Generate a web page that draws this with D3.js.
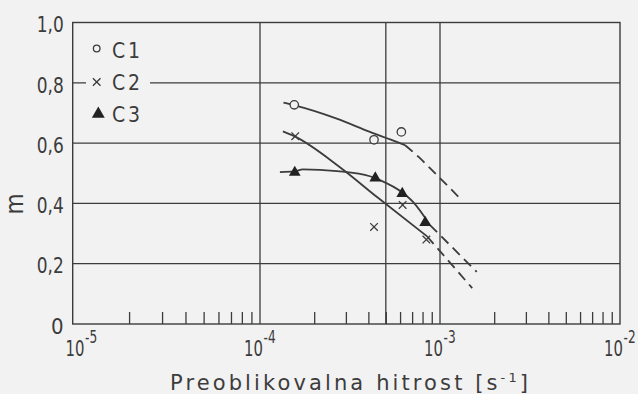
<!DOCTYPE html>
<html>
<head>
<meta charset="utf-8">
<script src="https://cdn.jsdelivr.net/npm/d3@7"></script>
<style>
  html, body { margin: 0; padding: 0; background: #f2f2f2; }
  svg { display: block; }
</style>
</head>
<body>
<svg id="chart" width="638" height="394"></svg>
<script>
// marker data
const c1X = [1.55e-4, 4.3e-4, 6.1e-4];
const c1Y = [0.727, 0.611, 0.637];
const c2X = [1.57e-4, 4.3e-4, 6.2e-4, 8.4e-4];
const c2Y = [0.623, 0.322, 0.395, 0.28];
const c3X = [1.56e-4, 4.37e-4, 6.17e-4, 8.27e-4];
const c3Y = [0.506, 0.487, 0.436, 0.34];

// fitted curves: solid part and dashed extrapolation
const c1SolidX = [1.35e-4, 1.56e-4, 2.67e-4, 4.08e-4, 5.75e-4, 6.4e-4];
const c1SolidY = [0.734, 0.725, 0.681, 0.637, 0.604, 0.593];
const c1DashX = [6.4e-4, 7.74e-4, 8.8e-4, 1.29e-3];
const c1DashY = [0.593, 0.55, 0.517, 0.417];

const c2SolidX = [1.34e-4, 1.55e-4, 2.78e-4, 4.47e-4, 8.47e-4];
const c2SolidY = [0.639, 0.623, 0.52, 0.421, 0.291];
const c2DashX = [8.47e-4, 1.51e-3];
const c2DashY = [0.291, 0.119];

const c3SolidX = [1.29e-4, 1.56e-4, 1.73e-4, 2.68e-4, 4.08e-4, 4.64e-4, 6.17e-4, 7.08e-4, 8.8e-4];
const c3SolidY = [0.504, 0.506, 0.513, 0.507, 0.49, 0.477, 0.436, 0.405, 0.328];
const c3DashX = [8.8e-4, 1.6e-3];
const c3DashY = [0.328, 0.173];

const yTicks = [0, 0.2, 0.4, 0.6, 0.8, 1.0];
const xDecades = [1e-5, 1e-4, 1e-3, 1e-2];
const xDecadeLabels = ['-5', '-4', '-3', '-2'];
const xGrid = [1e-4, 5e-4, 1e-3];
const yGrid = [0.2, 0.4, 0.6, 0.8];
const legendNames = ['C1', 'C2', 'C3'];

const ink = '#3c3c3c';
const bg = '#f2f2f2';
const narrow = '"DejaVu Sans Condensed", "Liberation Sans Narrow", sans-serif';

const svg = d3.select('#chart');

// the printed decades are not quite even, so piecewise log scale
const x = d3.scaleLog()
    .domain(xDecades)
    .range([72.7, 260, 440, 620]);
const y = d3.scaleLinear()
    .domain([0, 1])
    .range([324, 22.5]);

const zip = (xs, ys) => xs.map((v, i) => [v, ys[i]]);

// grid
svg.append('g').selectAll('line')
    .data(xGrid)
    .enter().append('line')
    .attr('x1', d => x(d)).attr('x2', d => x(d))
    .attr('y1', y(0)).attr('y2', y(1))
    .attr('stroke', ink).attr('stroke-width', 1.3);
svg.append('g').selectAll('line')
    .data(yGrid)
    .enter().append('line')
    .attr('x1', x(1e-5)).attr('x2', x(1e-2))
    .attr('y1', d => y(d)).attr('y2', d => y(d))
    .attr('stroke', ink).attr('stroke-width', 1.3);

// minor ticks inside bottom axis
const minor = [];
xDecades.slice(0, 3).forEach(dec => {
    for (let k = 2; k <= 9; k++) minor.push(dec * k);
});
svg.append('g')
    .attr('transform', `translate(0,${y(0)})`)
    .call(d3.axisBottom(x).tickValues(minor).tickSize(-12).tickFormat(''))
    .call(g => g.select('.domain').remove())
    .call(g => g.selectAll('line').attr('stroke', ink).attr('stroke-width', 1.3));

// frame
svg.append('rect')
    .attr('x', x(1e-5)).attr('y', y(1))
    .attr('width', x(1e-2) - x(1e-5)).attr('height', y(0) - y(1))
    .attr('fill', 'none').attr('stroke', ink).attr('stroke-width', 1.4);

// y labels
svg.append('g')
    .attr('transform', `translate(${x(1e-5)},0)`)
    .call(d3.axisLeft(y).tickValues(yTicks).tickSize(0).tickPadding(9)
        .tickFormat(d => d === 0 ? '0' : d3.format('.1f')(d).replace('.', ',')))
    .call(g => g.select('.domain').remove())
    .call(g => g.selectAll('text')
        .attr('fill', ink)
        .attr('font-family', narrow)
        .attr('font-size', 22)
        .attr('dy', '0.42em')
        .each(function (d) {
            if (d !== 0) d3.select(this).attr('textLength', 27).attr('lengthAdjust', 'spacingAndGlyphs');
        }));

// x labels 10^n, squeezed sideways like the printed lettering
const xl = svg.append('g');
xDecades.forEach((d, i) => {
    const t = xl.append('text')
        .attr('transform', `translate(${Math.max(x(d) - 16, 65.5)},356) scale(0.75,1)`)
        .attr('fill', ink)
        .attr('font-family', narrow)
        .attr('font-size', 22);
    t.append('tspan').text('10');
    t.append('tspan').attr('dy', -13).attr('dx', 1).attr('font-size', 18).text(xDecadeLabels[i]);
});

// axis titles
const title = svg.append('text')
    .attr('x', 170).attr('y', 389.5)
    .attr('fill', ink)
    .attr('font-family', '"DejaVu Sans", sans-serif')
    .attr('font-size', 21)
    .attr('textLength', 358)
    .attr('lengthAdjust', 'spacing');
title.append('tspan').text('Preoblikovalna hitrost [s');
title.append('tspan').attr('dy', -8).attr('font-size', 13).text('-1');
title.append('tspan').attr('dy', 8).text(']');

svg.append('text')
    .attr('transform', 'translate(23,204) rotate(-90)')
    .attr('text-anchor', 'middle')
    .attr('fill', ink)
    .attr('font-family', narrow)
    .attr('font-size', 24)
    .text('m');

// curves
const line = d3.line()
    .x(d => x(d[0]))
    .y(d => y(d[1]))
    .curve(d3.curveMonotoneX);

const curves = [
    [zip(c1SolidX, c1SolidY), null],
    [zip(c1DashX, c1DashY), '10,6'],
    [zip(c2SolidX, c2SolidY), null],
    [zip(c2DashX, c2DashY), '10,6'],
    [zip(c3SolidX, c3SolidY), null],
    [zip(c3DashX, c3DashY), '10,6']
];
svg.append('g').selectAll('path')
    .data(curves)
    .enter().append('path')
    .attr('d', d => line(d[0]))
    .attr('fill', 'none')
    .attr('stroke', ink)
    .attr('stroke-width', 1.8)
    .attr('stroke-dasharray', d => d[1]);

// markers
function drawCircle(g, px, py, r) {
    g.append('circle')
        .attr('cx', px).attr('cy', py).attr('r', r)
        .attr('fill', bg).attr('stroke', ink).attr('stroke-width', 1.3);
}
function drawCross(g, px, py, s) {
    g.append('path')
        .attr('d', `M${px - s},${py - s}L${px + s},${py + s}M${px - s},${py + s}L${px + s},${py - s}`)
        .attr('stroke', ink).attr('stroke-width', 1.3);
}
function drawTri(g, px, py, size) {
    g.append('path')
        .attr('transform', `translate(${px},${py + 1})`)
        .attr('d', d3.symbol().type(d3.symbolTriangle).size(size)())
        .attr('fill', '#222');
}

const marks = svg.append('g');
zip(c1X, c1Y).forEach(d => drawCircle(marks, x(d[0]), y(d[1]), 4.2));
zip(c2X, c2Y).forEach(d => drawCross(marks, x(d[0]), y(d[1]), 3.8));
zip(c3X, c3Y).forEach(d => drawTri(marks, x(d[0]), y(d[1]), 60));

// legend
const lg = svg.append('g');
lg.append('rect')
    .attr('x', 86).attr('y', 30).attr('width', 64).attr('height', 96)
    .attr('fill', bg);
const rowsY = [50.5, 82, 114.5];
drawCircle(lg, 96.7, rowsY[0] - 2, 3.3);
drawCross(lg, 96.7, rowsY[1], 3.8);
drawTri(lg, 98.3, rowsY[2] - 1.5, 72);
legendNames.forEach((n, i) => {
    lg.append('text')
        .attr('x', 112).attr('y', rowsY[i])
        .attr('dy', '0.36em')
        .attr('fill', ink)
        .attr('font-family', narrow)
        .attr('font-size', 21)
        .attr('textLength', 28)
        .attr('lengthAdjust', 'spacing')
        .text(n);
});
</script>
</body>
</html>
